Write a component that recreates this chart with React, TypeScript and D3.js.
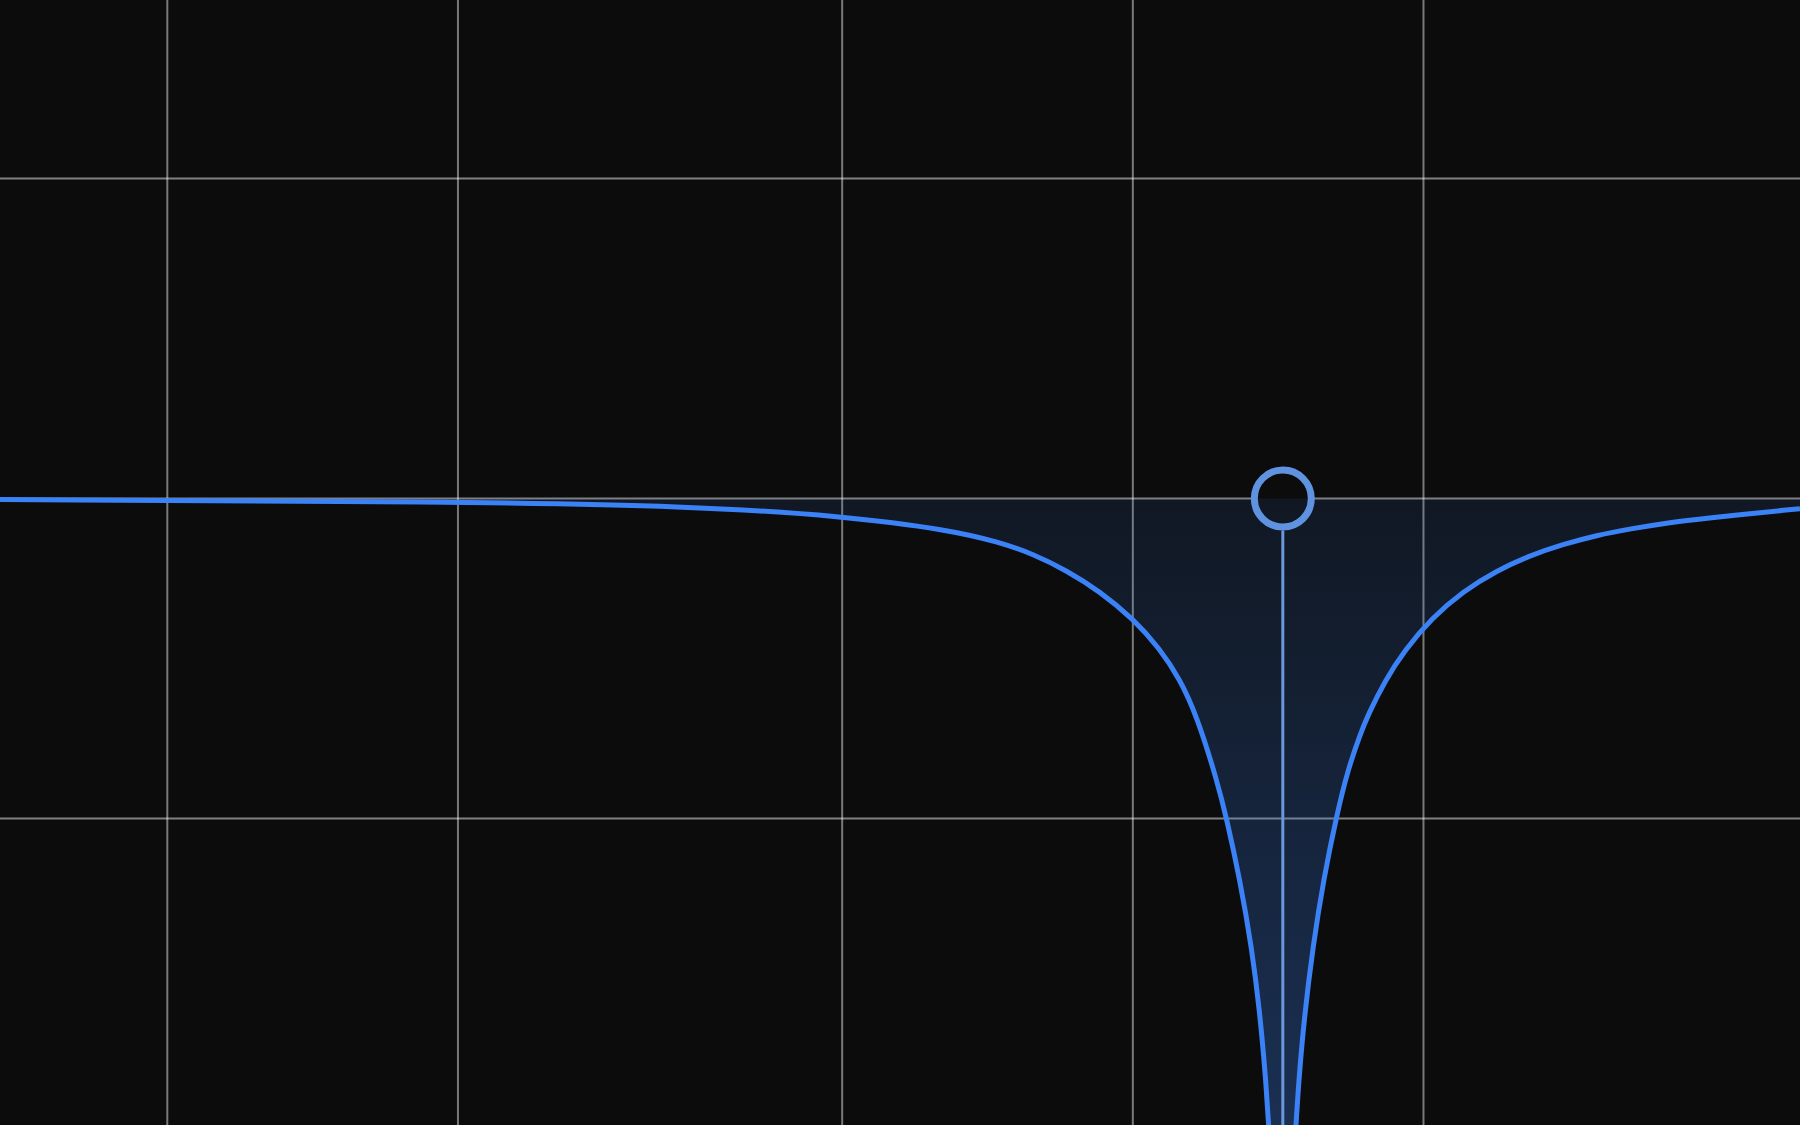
import React, { useEffect, useRef } from "react";
import * as d3 from "d3";

// notch response (Hz / dB)
const freqHz = [
  67.1, 200, 347, 503, 646, 728, 788, 854, 924, 1000, 1066, 1119, 1165, 1222,
  1251, 1291, 1328, 1354, 1373, 1383, 1430, 1475, 1486, 1504, 1536, 1577, 1627,
  1670, 1719, 1752, 1824, 1913, 2041, 2198, 2383, 2578, 2789, 3024, 3272, 3599,
  3867, 4909,
];
const gainDb = [
  -0.02, -0.06, -0.14, -0.33, -0.59, -0.82, -1.04, -1.35, -1.74, -2.25, -2.81,
  -3.39, -4.08, -5.28, -6.01, -7.15, -8.43, -9.65, -10.9, -11.75, -16, -11.75,
  -10.9, -9.78, -8.41, -7.11, -5.92, -5.09, -4.43, -4.06, -3.42, -2.84, -2.24,
  -1.74, -1.35, -1.07, -0.86, -0.69, -0.57, -0.45, -0.38, -0.19,
];

const gridFreqs = [100, 200, 500, 1000, 2000];
const gridDb = [6, 0, -6];

const freqDomain = [67.1, 4909];
const dbDomain = [-11.75, 9.35];

// the band handle
const notchFreq = 1430;
const notchGain = 0;

const App: React.FC = () => {
  const svgRef = useRef<SVGSVGElement>(null);
  const width = 1800;
  const height = 1125;

  useEffect(() => {
    document.body.style.margin = "0";
    document.body.style.background = "#0c0c0c";
    if (!svgRef.current) return;

    const svg = d3.select(svgRef.current);
    svg.selectAll("*").remove();

    const xScale = d3.scaleLog().domain(freqDomain).range([0, width]);
    const yScale = d3.scaleLinear().domain(dbDomain).range([height, 0]);

    const data = freqHz.map((f, i) => ({ f, db: gainDb[i] }));

    svg
      .append("rect")
      .attr("width", width)
      .attr("height", height)
      .attr("fill", "#0c0c0c");

    // Fill gradient
    const defs = svg.append("defs");
    const grad = defs
      .append("linearGradient")
      .attr("id", "notchFill")
      .attr("gradientUnits", "userSpaceOnUse")
      .attr("x1", 0)
      .attr("x2", 0)
      .attr("y1", yScale(0))
      .attr("y2", height);
    grad
      .append("stop")
      .attr("offset", "0%")
      .attr("stop-color", "#3b82f6")
      .attr("stop-opacity", 0.1);
    grad
      .append("stop")
      .attr("offset", "100%")
      .attr("stop-color", "#3b82f6")
      .attr("stop-opacity", 0.3);

    // Grid
    const grid = svg.append("g");
    grid
      .selectAll("line.v")
      .data(gridFreqs)
      .enter()
      .append("line")
      .attr("x1", (d) => xScale(d))
      .attr("x2", (d) => xScale(d))
      .attr("y1", 0)
      .attr("y2", height)
      .attr("stroke", "#ffffff")
      .attr("stroke-opacity", 0.45)
      .attr("stroke-width", 2);
    grid
      .selectAll("line.h")
      .data(gridDb)
      .enter()
      .append("line")
      .attr("x1", 0)
      .attr("x2", width)
      .attr("y1", (d) => yScale(d))
      .attr("y2", (d) => yScale(d))
      .attr("stroke", "#ffffff")
      .attr("stroke-opacity", 0.48)
      .attr("stroke-width", 2);

    const hx = xScale(notchFreq);
    const hy = yScale(notchGain);
    const r = 28.5;
    const ring = 7;

    // handle background, hides the grid inside the ring
    svg
      .append("circle")
      .attr("cx", hx)
      .attr("cy", hy)
      .attr("r", r)
      .attr("fill", "#0c0c0c");

    const curve = d3.curveBasis;

    // Area between curve and 0 dB
    const area = d3
      .area<{ f: number; db: number }>()
      .x((d) => xScale(d.f))
      .y0(yScale(0))
      .y1((d) => yScale(d.db))
      .curve(curve);

    svg.append("path").datum(data).attr("d", area).attr("fill", "url(#notchFill)");

    // Response curve
    const line = d3
      .line<{ f: number; db: number }>()
      .x((d) => xScale(d.f))
      .y((d) => yScale(d.db))
      .curve(curve);

    svg
      .append("path")
      .datum(data)
      .attr("d", line)
      .attr("fill", "none")
      .attr("stroke", "#3b82f6")
      .attr("stroke-width", 5)
      .attr("stroke-linejoin", "round");

    // Stem
    svg
      .append("line")
      .attr("x1", hx)
      .attr("x2", hx)
      .attr("y1", hy + r + ring / 2)
      .attr("y2", height)
      .attr("stroke", "#6b97dd")
      .attr("stroke-width", 3);

    // Handle ring
    svg
      .append("circle")
      .attr("cx", hx)
      .attr("cy", hy)
      .attr("r", r)
      .attr("fill", "none")
      .attr("stroke", "#5f93e0")
      .attr("stroke-width", ring);
  }, []);

  return (
    <svg
      ref={svgRef}
      width={width}
      height={height}
      style={{ position: "fixed", left: 0, top: 0, display: "block" }}
    />
  );
};

export default App;
